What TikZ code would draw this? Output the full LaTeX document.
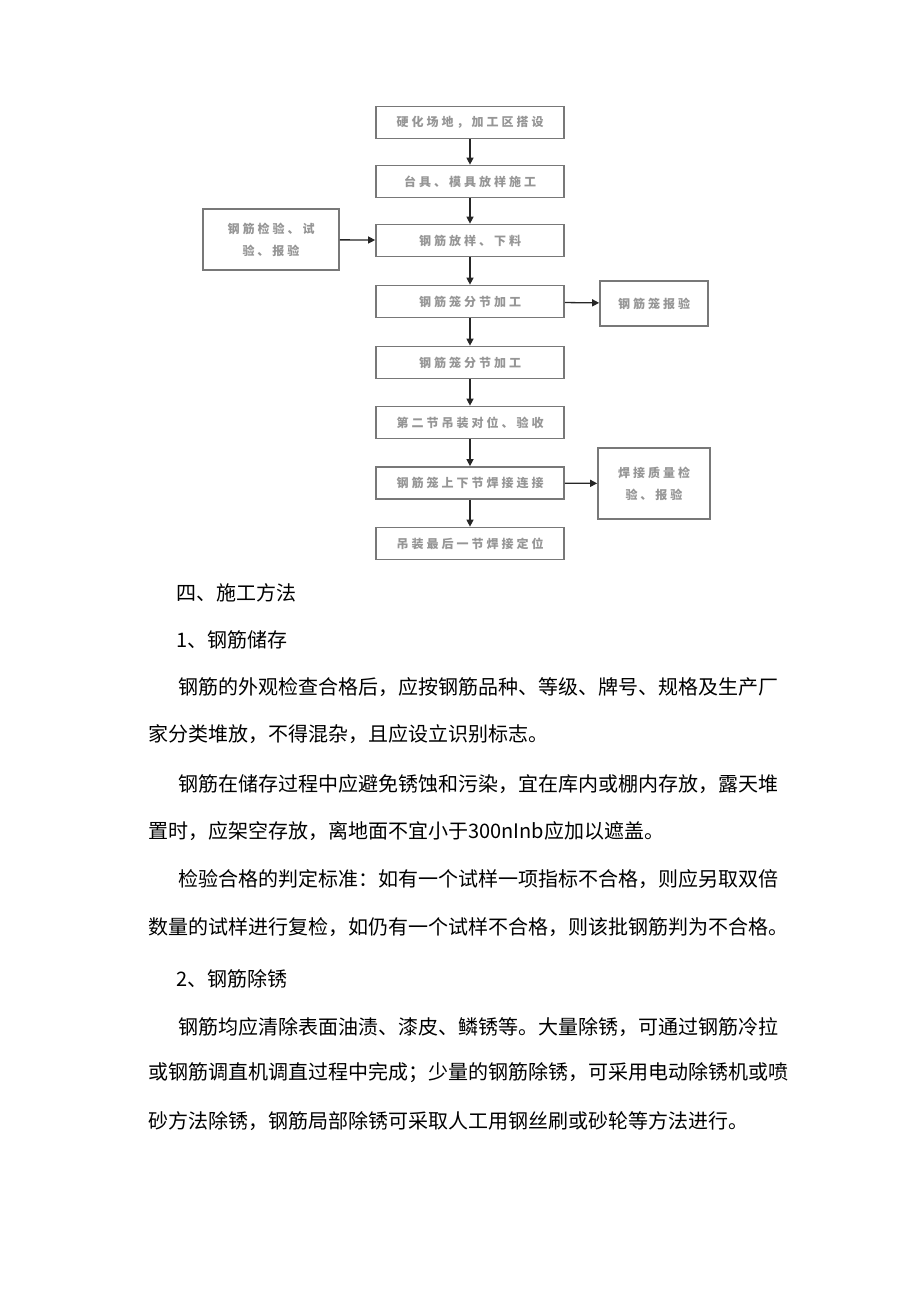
\documentclass[tikz,border=0pt]{standalone}
\usepackage{fontspec}
\setmainfont{Noto Sans CJK SC}
\usetikzlibrary{arrows.meta}
\definecolor{boxgray}{RGB}{120,120,120}
\definecolor{textgray}{RGB}{150,150,150}
\tikzset{
  stepbox/.style={draw=boxgray, line width=1.7pt, text=textgray, inner sep=0pt,
    minimum width=188pt, minimum height=32pt, align=center,
    font=\fontsize{12}{22}\selectfont\bfseries\addfontfeature{LetterSpace=25}},
  flow/.style={-{Triangle[length=7pt,width=7pt]}, line width=1.3pt, color=black!85},
  bodyline/.style={anchor=west, inner sep=0pt, font=\fontsize{20}{24}\selectfont}
}
\begin{document}
\begin{tikzpicture}[x=1pt,y=-1pt]
\useasboundingbox[fill=white] (0,0) rectangle (920,1301);
% Drawing main boxes
\node[stepbox] (hard) at (470,122.5) {硬化场地，加工区搭设};
\node[stepbox] (mould) at (470,181.5) {台具、模具放样施工};
\node[stepbox] (cut) at (470,240.5) {钢筋放样、下料};
\node[stepbox] (cageA) at (470,301.5) {钢筋笼分节加工};
\node[stepbox] (cageB) at (470,362.5) {钢筋笼分节加工};
\node[stepbox] (lift) at (470,422.5) {第二节吊装对位、验收};
\node[stepbox] (weld) at (470,483) {钢筋笼上下节焊接连接};
\node[stepbox] (last) at (470,543.5) {吊装最后一节焊接定位};
% Drawing side boxes
\node[stepbox, minimum width=136pt, minimum height=61pt] (test) at (271,239.5) {钢筋检验、试\\验、报验};
\node[stepbox, minimum width=108pt, minimum height=45pt] (cagechk) at (654,303.5) {钢筋笼报验};
\node[stepbox, minimum width=112pt, minimum height=71pt] (weldchk) at (654,483.5) {焊接质量检\\验、报验};
% Drawing arrows
\draw[flow] (hard) -- (mould);
\draw[flow] (mould) -- (cut);
\draw[flow] (cut) -- (cageA);
\draw[flow] (cageA) -- (cageB);
\draw[flow] (cageB) -- (lift);
\draw[flow] (lift) -- (weld);
\draw[flow] (weld) -- (last);
\draw[flow] (test) -- (cut);
\draw[flow] (cageA) -- (cagechk);
\draw[flow] (weld) -- (weldchk);
% Drawing text lines
\node[bodyline] (h4) at (176,593) {四、施工方法};
\node[bodyline] (h41) at (176,640) {1、钢筋储存};
\node[bodyline] (p1a) at (178,687) {钢筋的外观检查合格后，应按钢筋品种、等级、牌号、规格及生产厂};
\node[bodyline] (p1b) at (148,734) {家分类堆放，不得混杂，且应设立识别标志。};
\node[bodyline] (p2a) at (178,784) {钢筋在储存过程中应避免锈蚀和污染，宜在库内或棚内存放，露天堆};
\node[bodyline] (p2b) at (148,831) {置时，应架空存放，离地面不宜小于300nInb应加以遮盖。};
\node[bodyline] (p3a) at (178,879) {检验合格的判定标准：如有一个试样一项指标不合格，则应另取双倍};
\node[bodyline] (p3b) at (148,927) {数量的试样进行复检，如仍有一个试样不合格，则该批钢筋判为不合格。};
\node[bodyline] (h42) at (176,979) {2、钢筋除锈};
\node[bodyline] (p4a) at (178,1027) {钢筋均应清除表面油渍、漆皮、鳞锈等。大量除锈，可通过钢筋冷拉};
\node[bodyline] (p4b) at (148,1073) {或钢筋调直机调直过程中完成；少量的钢筋除锈，可采用电动除锈机或喷};
\node[bodyline] (p4c) at (148,1121) {砂方法除锈，钢筋局部除锈可采取人工用钢丝刷或砂轮等方法进行。};
\end{tikzpicture}
\end{document}
